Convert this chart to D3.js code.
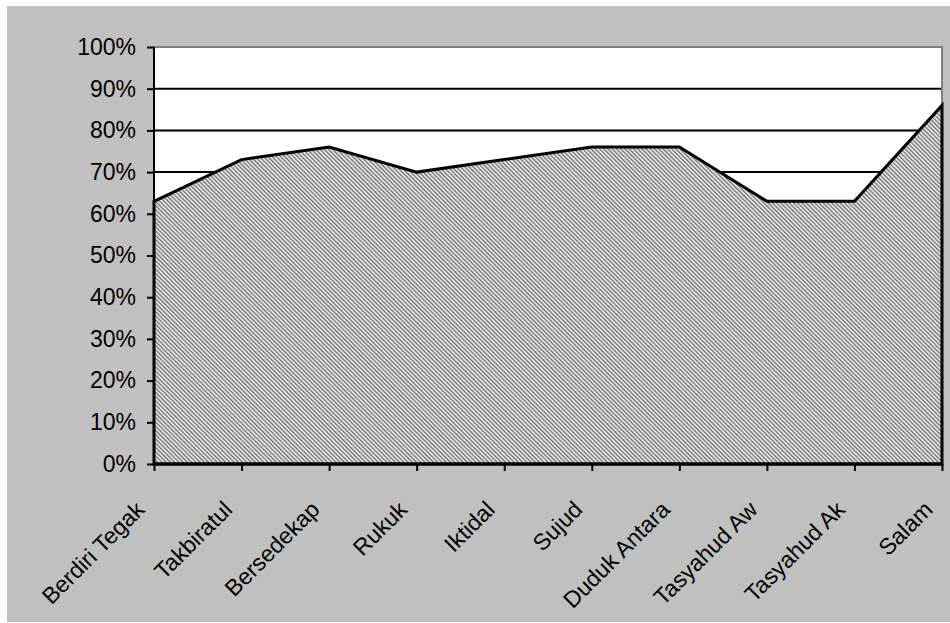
<!DOCTYPE html>
<html>
<head>
<meta charset="utf-8">
<script src="https://cdn.jsdelivr.net/npm/d3@7/dist/d3.min.js"></script>
<style>
  html, body { margin: 0; padding: 0; background: #ffffff; }
  svg { display: block; }
  text { font-family: "Liberation Sans", Arial, sans-serif; fill: #000; }
</style>
</head>
<body>
<svg id="chart" width="950" height="623"></svg>
<script>
// Gerakan sholat and the share recorded for each
const categories = ["Berdiri Tegak", "Takbiratul", "Bersedekap", "Rukuk", "Iktidal",
                    "Sujud", "Duduk Antara", "Tasyahud Aw", "Tasyahud Ak", "Salam"];
const values = [0.63, 0.73, 0.76, 0.70, 0.73, 0.76, 0.76, 0.63, 0.63, 0.86];
const yTicks = [0, 0.1, 0.2, 0.3, 0.4, 0.5, 0.6, 0.7, 0.8, 0.9, 1.0];

const svg = d3.select("#chart");
const W = 950;
const plot = { left: 154, top: 47, right: 942, bottom: 464 };
const fontSize = "23px";

// chart area background
svg.append("rect")
  .attr("x", 7).attr("y", 6)
  .attr("width", W - 7).attr("height", 616)
  .attr("fill", "#c0c0c0");

// hatched fill for the area
const defs = svg.append("defs");
const pat = defs.append("pattern")
  .attr("id", "hatch")
  .attr("patternUnits", "userSpaceOnUse")
  .attr("width", 3).attr("height", 3)
  .attr("patternTransform", "rotate(-45)");
pat.append("rect").attr("width", 3).attr("height", 3).attr("fill", "#eeeeee");
pat.append("rect").attr("width", 1.3).attr("height", 3).attr("fill", "#6a6a6a");

const x = d3.scalePoint().domain(categories).range([plot.left, plot.right]);
const y = d3.scaleLinear().domain([0, 1]).range([plot.bottom, plot.top]);

// plot area
svg.append("rect")
  .attr("x", plot.left).attr("y", plot.top)
  .attr("width", plot.right - plot.left).attr("height", plot.bottom - plot.top)
  .attr("fill", "#ffffff");

// horizontal gridlines
svg.append("g")
  .selectAll("line")
  .data(yTicks.filter(t => t > 0 && t < 1))
  .join("line")
  .attr("x1", plot.left).attr("x2", plot.right)
  .attr("y1", d => y(d)).attr("y2", d => y(d))
  .attr("stroke", "#000").attr("stroke-width", 2);

// plot border (top and right)
svg.append("path")
  .attr("d", `M${plot.left},${plot.top}H${plot.right}V${plot.bottom}`)
  .attr("fill", "none").attr("stroke", "#808080").attr("stroke-width", 2);

// area
const area = d3.area()
  .x((d, i) => x(categories[i]))
  .y0(y(0))
  .y1(d => y(d));
svg.append("path")
  .datum(values)
  .attr("d", area)
  .attr("fill", "url(#hatch)")
  .attr("stroke", "#000")
  .attr("stroke-width", 3)
  .attr("stroke-linejoin", "miter");

// y axis
const yAxis = d3.axisLeft(y)
  .tickValues(yTicks)
  .tickFormat(d3.format(".0%"))
  .tickSize(7)
  .tickPadding(11);
const gy = svg.append("g")
  .attr("transform", `translate(${plot.left},0)`)
  .call(yAxis);
gy.select(".domain").attr("stroke", "#000").attr("stroke-width", 2)
  .attr("d", `M0,${plot.top}V${plot.bottom}`);
gy.selectAll(".tick line").attr("stroke", "#000").attr("stroke-width", 2);
gy.selectAll(".tick text")
  .style("font-family", "'Liberation Sans', Arial, sans-serif")
  .style("font-size", fontSize)
  .attr("fill", "#000");

// x axis
const xAxis = d3.axisBottom(x).tickSize(7).tickFormat("");
const gx = svg.append("g")
  .attr("transform", `translate(0,${plot.bottom})`)
  .call(xAxis);
gx.select(".domain").attr("stroke", "#000").attr("stroke-width", 3)
  .attr("d", `M${plot.left},0H${plot.right}`);
gx.selectAll(".tick line").attr("stroke", "#000").attr("stroke-width", 2);

// rotated category labels
svg.append("g")
  .selectAll("text")
  .data(categories)
  .join("text")
  .attr("transform", d => `translate(${x(d) - 8},${plot.bottom + 47}) rotate(-45)`)
  .attr("text-anchor", "end")
  .style("font-size", fontSize)
  .text(d => d);
</script>
</body>
</html>
